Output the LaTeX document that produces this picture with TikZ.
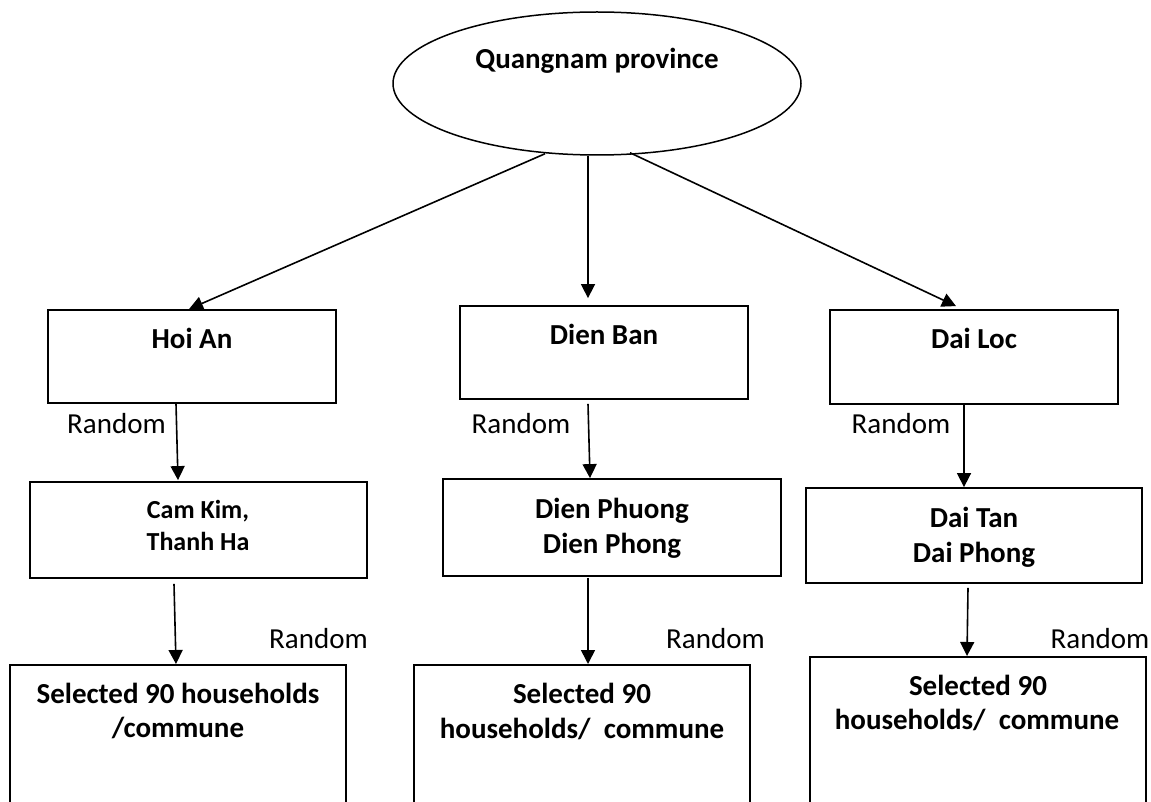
\documentclass[tikz,border=0pt]{standalone}
\usepackage{fontspec}
\setmainfont{Carlito}
\usetikzlibrary{arrows.meta,shapes.geometric}
\tikzset{
  boxnode/.style={draw, rectangle, line width=1.8pt, inner sep=0pt},
  ellnode/.style={draw, ellipse, line width=1.5pt, inner sep=0pt},
  arr/.style={-{Triangle[length=14pt,width=14pt]}, line width=1.6pt},
  bl/.style={font=\bfseries\fontsize{29pt}{35pt}\selectfont, anchor=base, inner sep=0pt},
  bls/.style={font=\bfseries\fontsize{26pt}{32pt}\selectfont, anchor=base, inner sep=0pt},
  rl/.style={font=\fontsize{29pt}{35pt}\selectfont, anchor=base, inner sep=0pt}
}
\begin{document}
\begin{tikzpicture}[x=1pt,y=-1pt]
\useasboundingbox (0,0) rectangle (1151,802);
\clip (0,0) rectangle (1151,802);
\fill[white] (0,0) rectangle (1151,802);

% top ellipse
\node[ellnode, minimum width=408pt, minimum height=143pt] (prov) at (597,83.5) {};
\node[bl] (provt) at (597,69) {Quangnam province};

% districts
\node[boxnode, minimum width=288pt, minimum height=93pt] (hoian) at (192,356.5) {};
\node[boxnode, minimum width=288pt, minimum height=93pt] (dienban) at (604,352.5) {};
\node[boxnode, minimum width=288pt, minimum height=94pt] (dailoc) at (974,357) {};
\node[bl] (hoiant) at (192,348) {Hoi An};
\node[bl] (dienbant) at (604,344) {Dien Ban};
\node[bl] (dailoct) at (974,348) {Dai Loc};

% communes
\node[boxnode, minimum width=337pt, minimum height=96pt] (cam) at (198.5,530) {};
\node[boxnode, minimum width=338pt, minimum height=97pt] (dphuong) at (612,527.5) {};
\node[boxnode, minimum width=336pt, minimum height=95pt] (daitan) at (974,535.5) {};
\node[bls] (camta) at (198,518) {Cam Kim,};
\node[bls] (camtb) at (198,550) {Thanh Ha};
\node[bl] (dphta) at (612,518) {Dien Phuong};
\node[bl] (dphtb) at (612,553) {Dien Phong};
\node[bl] (dtta) at (974,527) {Dai Tan};
\node[bl] (dttb) at (974,562) {Dai Phong};

% households (open at the bottom edge)
\node[boxnode, anchor=north, minimum width=336pt, minimum height=170pt] (sela) at (178,664) {};
\node[boxnode, anchor=north, minimum width=336pt, minimum height=170pt] (selb) at (582,664) {};
\node[boxnode, anchor=north, minimum width=336pt, minimum height=180pt] (selc) at (978,656) {};
\node[bl] (selat1) at (178,703) {Selected 90 households};
\node[bl] (selat2) at (178,737) {/commune};
\node[bl] (selbt1) at (582,703) {Selected 90};
\node[bl] (selbt2) at (582,738) {households/\ \ commune};
\node[bl] (selct1) at (978,695) {Selected 90};
\node[bl] (selct2) at (977,729) {households/\ \ commune};

% Random labels
\node[rl] (r1) at (116.5,433) {Random};
\node[rl] (r2) at (521,433) {Random};
\node[rl] (r3) at (901,433) {Random};
\node[rl] (r4) at (318.5,648) {Random};
\node[rl] (r5) at (715.5,648) {Random};
\node[rl] (r6) at (1100,648) {Random};

% connectors
\draw[arr] ([xshift=-52pt,yshift=2pt]prov.south) -- ([xshift=-3pt]hoian.north);
\draw[arr] ([xshift=-9pt]prov.south) -- ([xshift=-16pt,yshift=7pt]dienban.north);
\draw[arr] ([xshift=33pt,yshift=3pt]prov.south) -- ([xshift=-18pt,yshift=3pt]dailoc.north);

\draw[arr] ([xshift=-16pt]hoian.south) -- ([xshift=-20.5pt,yshift=1pt]cam.north);
\draw[arr] ([xshift=-16pt,yshift=-4pt]dienban.south) -- ([xshift=-22pt]dphuong.north);
\draw[arr] ([xshift=-10pt]dailoc.south) -- ([xshift=-10pt]daitan.north);

\draw[arr] ([xshift=-24.5pt,yshift=-5pt]cam.south) -- ([xshift=-2pt]sela.north);
\draw[arr] ([xshift=-24pt,yshift=-1pt]dphuong.south) -- ([xshift=6pt]selb.north);
\draw[arr] ([xshift=-6pt,yshift=-4pt]daitan.south) -- ([xshift=-11pt]selc.north);
\end{tikzpicture}
\end{document}
